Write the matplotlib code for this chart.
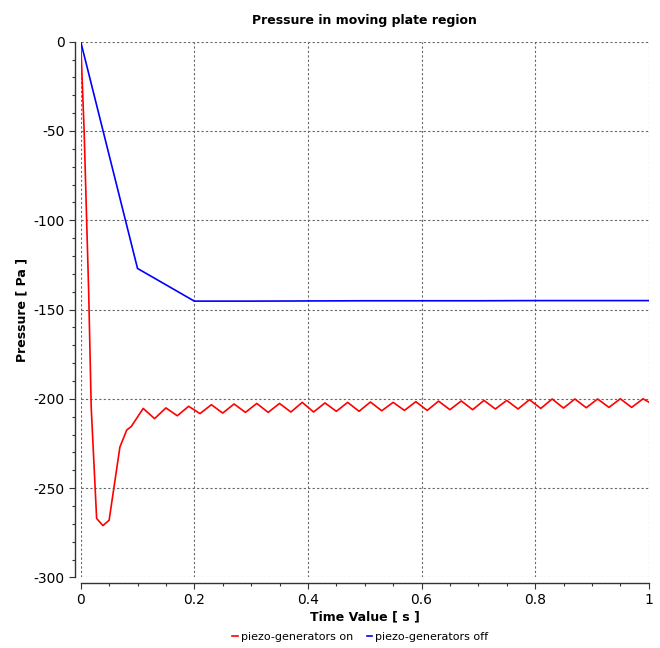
import matplotlib
matplotlib.use("Agg")
import matplotlib.pyplot as plt
from matplotlib.ticker import MultipleLocator

# piezo-generators on (red)
time_on = [0.0, 0.006, 0.014, 0.0185, 0.028, 0.039, 0.05, 0.069, 0.081, 0.089,
           0.11, 0.13, 0.15, 0.17, 0.19, 0.21, 0.23, 0.25, 0.27, 0.29,
           0.31, 0.33, 0.35, 0.37, 0.39, 0.41, 0.43, 0.45, 0.47, 0.49,
           0.51, 0.53, 0.55, 0.57, 0.59, 0.61, 0.63, 0.65, 0.67, 0.69,
           0.71, 0.73, 0.75, 0.77, 0.79, 0.81, 0.83, 0.85, 0.87, 0.89,
           0.91, 0.93, 0.95, 0.97, 0.99, 1.0]
pressure_on = [0, -50, -140, -205, -267, -271, -268, -227, -217.5, -215.5,
               -205.4, -211.1, -205.1, -209.5, -204.2, -208.3, -203.3, -208.0, -202.9, -207.6,
               -202.6, -207.6, -202.6, -207.4, -202.0, -207.4, -202.3, -207.0, -202.0, -207.0,
               -201.8, -206.7, -202.0, -206.5, -201.6, -206.5, -201.3, -206.1, -201.2, -206.1,
               -200.9, -205.7, -200.9, -205.7, -200.5, -205.4, -200.1, -205.2, -200.1, -205.0,
               -200.1, -204.8, -200.0, -204.8, -200.0, -201.8]

# piezo-generators off (blue)
time_off = [0.0, 0.1, 0.2, 0.3, 0.4, 0.5, 0.6, 0.7, 0.8, 0.9, 1.0]
pressure_off = [0, -127, -145.3, -145.3, -145.2, -145.1, -145.1, -145.1, -145.0, -145.0, -145.0]

x_ticks = [0, 0.2, 0.4, 0.6, 0.8, 1.0]
x_labels = ['0', '0.2', '0.4', '0.6', '0.8', '1']
y_ticks = [0, -50, -100, -150, -200, -250, -300]
y_labels = ['0', '-50', '-100', '-150', '-200', '-250', '-300']

fig = plt.figure(figsize=(6.6, 6.48), dpi=100)
ax = fig.add_axes([0.1223, 0.109, 0.8606, 0.8267])

ax.plot(time_on, pressure_on, color='#ff0000', lw=1.2, label='piezo-generators on')
ax.plot(time_off, pressure_off, color='#0000ff', lw=1.2, label='piezo-generators off')

ax.set_xlim(0, 1)
ax.set_ylim(-300, 0)
ax.set_xticks(x_ticks)
ax.set_xticklabels(x_labels, fontsize=8.5)
ax.set_yticks(y_ticks)
ax.set_yticklabels(y_labels, fontsize=8.5)
ax.xaxis.set_minor_locator(MultipleLocator(0.05))
ax.yaxis.set_minor_locator(MultipleLocator(10))

for side in ['top', 'right']:
    ax.spines[side].set_visible(False)
for side in ['left', 'bottom']:
    ax.spines[side].set_position(('outward', 4))
    ax.spines[side].set_color('#333333')
    ax.spines[side].set_linewidth(1.0)

ax.tick_params(which='major', direction='out', length=4, width=0.8, colors='#333333', labelcolor='black')
ax.tick_params(which='minor', direction='out', length=2.5, width=0.8, colors='#333333')

ax.grid(True, which='major', color='#666666', linestyle=(0, (2, 2)), linewidth=0.8)
ax.set_axisbelow(True)

ax.set_title('Pressure in moving plate region', fontsize=9, fontweight='bold', pad=13)
ax.set_xlabel('Time Value [ s ]', fontsize=9, fontweight='bold', labelpad=2)
ax.set_ylabel('Pressure [ Pa ]', fontsize=9, fontweight='bold', labelpad=4)

fig.legend(loc='lower center', bbox_to_anchor=(0.546, -0.006), ncol=2, frameon=False,
           fontsize=8, handlelength=0.5, handletextpad=0.3, columnspacing=1.2)

fig.savefig('out.png', dpi=100)
